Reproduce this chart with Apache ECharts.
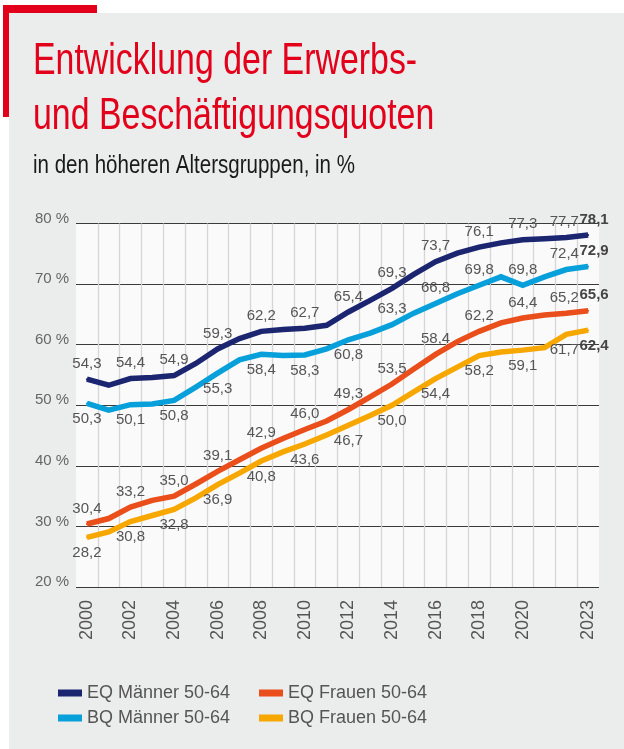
<!DOCTYPE html>
<html>
<head>
<meta charset="utf-8">
<script src="https://cdn.jsdelivr.net/npm/echarts@6/dist/echarts.min.js"></script>
<style>
  html, body { margin: 0; padding: 0; background: #fff; }
  #chart { width: 624px; height: 749px; }
</style>
</head>
<body>
<div id="chart"></div>
<script>
// Jahre 2000 - 2023
const years = ['2000', '2001', '2002', '2003', '2004', '2005', '2006', '2007', '2008', '2009', '2010', '2011',
  '2012', '2013', '2014', '2015', '2016', '2017', '2018', '2019', '2020', '2021', '2022', '2023'];

const eqMaenner = [54.3, 53.3, 54.4, 54.6, 54.9, 56.9, 59.3, 61.0, 62.2, 62.5, 62.7, 63.2,
  65.4, 67.3, 69.3, 71.6, 73.7, 75.1, 76.1, 76.8, 77.3, 77.5, 77.7, 78.1];
const bqMaenner = [50.3, 49.2, 50.1, 50.2, 50.8, 53.0, 55.3, 57.5, 58.4, 58.2, 58.3, 59.3,
  60.8, 61.9, 63.3, 65.2, 66.8, 68.4, 69.8, 71.2, 69.8, 71.2, 72.4, 72.9];
const eqFrauen = [30.4, 31.3, 33.2, 34.3, 35.0, 37.0, 39.1, 41.0, 42.9, 44.5, 46.0, 47.4,
  49.3, 51.4, 53.5, 56.0, 58.4, 60.5, 62.2, 63.6, 64.4, 64.9, 65.2, 65.6];
const bqFrauen = [28.2, 29.1, 30.8, 31.8, 32.8, 34.7, 36.9, 38.8, 40.8, 42.3, 43.6, 45.1,
  46.7, 48.3, 50.0, 52.2, 54.4, 56.3, 58.2, 58.8, 59.1, 59.5, 61.7, 62.4];

// Jahre mit Beschriftung an der x-Achse
const xTickYears = ['2000', '2002', '2004', '2006', '2008', '2010', '2012', '2014', '2016', '2018', '2020', '2023'];
const yTicks = [20, 30, 40, 50, 60, 70, 80];

const FONT = "'Liberation Sans', Arial, sans-serif";
const RED = '#e3001b';
const last = years.length - 1;

// Werte stehen an geraden Jahren und am letzten Jahr
function isLabeled(i) {
  return i % 2 === 0 || i === last;
}

function buildData(values, posFn) {
  return values.map((v, i) => {
    if (!isLabeled(i)) return { value: v, label: { show: false } };
    const item = {
      value: v,
      label: { show: true, position: posFn(i), distance: 7 }
    };
    if (i === last - 1) {
      item.label.offset = [-2, 0];
    }
    if (i === last) {
      item.label.fontWeight = 'bold';
      item.label.color = '#444';
      item.label.offset = [6, 0];
    }
    return item;
  });
}

function lineSeries(name, color, values, posFn) {
  return {
    name: name,
    type: 'line',
    data: buildData(values, posFn),
    symbol: 'circle',
    symbolSize: 2,
    showSymbol: true,
    lineStyle: { color: color, width: 5.5, join: 'miter' },
    itemStyle: { color: color },
    label: {
      fontFamily: FONT,
      fontSize: 15,
      color: '#555',
      formatter: (p) => p.value.toFixed(1).replace('.', ',')
    },
    emphasis: { disabled: true },
    animation: false
  };
}

const chart = echarts.init(document.getElementById('chart'));

chart.setOption({
  backgroundColor: 'transparent',
  animation: false,
  graphic: [
    { type: 'rect', z: -10, shape: { x: 9, y: 13, width: 615, height: 736 }, style: { fill: '#ebecec' } },
    { type: 'rect', z: -5, shape: { x: 3, y: 5, width: 94, height: 8 }, style: { fill: RED } },
    { type: 'rect', z: -5, shape: { x: 3, y: 5, width: 6, height: 112 }, style: { fill: RED } },
    {
      type: 'text', x: 33, y: 84, scaleX: 0.77,
      style: { text: 'Entwicklung der Erwerbs-', font: '44px ' + FONT, fill: RED, verticalAlign: 'bottom', lineHeight: 44 }
    },
    {
      type: 'text', x: 33, y: 139, scaleX: 0.77,
      style: { text: 'und Beschäftigungsquoten', font: '44px ' + FONT, fill: RED, verticalAlign: 'bottom', lineHeight: 44 }
    },
    {
      type: 'text', x: 33, y: 179, scaleX: 0.79,
      style: { text: 'in den höheren Altersgruppen, in %', font: '26px ' + FONT, fill: '#1a1a1a', verticalAlign: 'bottom', lineHeight: 26 }
    }
  ],
  legend: [
    {
      data: ['EQ Männer 50-64', 'BQ Männer 50-64'],
      orient: 'vertical',
      left: 53,
      top: 679,
      icon: 'rect',
      itemWidth: 24,
      itemHeight: 7,
      itemGap: 7,
      selectedMode: false,
      textStyle: { fontFamily: FONT, fontSize: 18, color: '#555' }
    },
    {
      data: ['EQ Frauen 50-64', 'BQ Frauen 50-64'],
      orient: 'vertical',
      left: 254,
      top: 679,
      icon: 'rect',
      itemWidth: 24,
      itemHeight: 7,
      itemGap: 7,
      selectedMode: false,
      textStyle: { fontFamily: FONT, fontSize: 18, color: '#555' }
    }
  ],
  grid: {
    left: 76,
    right: 25,
    top: 223.5,
    bottom: 162,
    show: true,
    backgroundColor: '#fafafa',
    borderWidth: 0
  },
  xAxis: {
    type: 'category',
    data: years,
    boundaryGap: true,
    axisLine: { show: false },
    axisTick: { show: false },
    axisLabel: {
      interval: (i, v) => xTickYears.includes(v),
      rotate: 90,
      margin: 13,
      fontFamily: FONT,
      fontSize: 18,
      color: '#555'
    },
    splitLine: {
      show: true,
      interval: 0,
      showMinLine: false,
      showMaxLine: false,
      lineStyle: { color: '#d6d6d6', width: 1.3 }
    }
  },
  yAxis: {
    type: 'value',
    min: yTicks[0],
    max: yTicks[yTicks.length - 1],
    interval: 10,
    axisLine: { show: false },
    axisTick: { show: false },
    axisLabel: {
      align: 'left',
      verticalAlign: 'bottom',
      lineHeight: 10,
      margin: 41,
      fontFamily: FONT,
      fontSize: 15,
      color: '#666',
      formatter: (v) => v + ' %'
    },
    splitLine: { lineStyle: { color: '#3a3a3a', width: 1.2 } }
  },
  series: [
    lineSeries('EQ Männer 50-64', '#1b2570', eqMaenner, () => 'top'),
    lineSeries('BQ Männer 50-64', '#08a0da', bqMaenner, (i) => (i <= 12 ? 'bottom' : 'top')),
    lineSeries('EQ Frauen 50-64', '#e94e1b', eqFrauen, () => 'top'),
    lineSeries('BQ Frauen 50-64', '#f7a800', bqFrauen, () => 'bottom')
  ]
});
</script>
</body>
</html>
